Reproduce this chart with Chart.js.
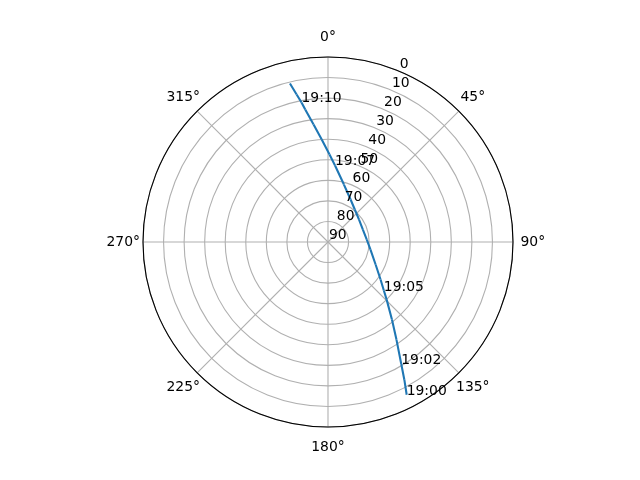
<!DOCTYPE html>
<html>
<head>
<meta charset="utf-8">
<script src="https://cdn.jsdelivr.net/npm/chart.js@4.4.0/dist/chart.umd.min.js"></script>
<style>
  body { margin: 0; background: #fff; }
</style>
</head>
<body>
<canvas id="myChart" width="640" height="480"></canvas>
<script>
// satellite pass, in time order
// azimuth: degrees clockwise from north, elevation: degrees above horizon
var azimuth = [152.8, 151.0, 148.9, 144.9, 140.6, 134.6, 131.0, 125.6, 115.4, 100.2, 86.5, 70.4,
               54.2, 39.6, 28.1, 15.5, 5.2, 1.0, 356.5, 353.1, 350.3, 349.2, 348.0, 346.5];
var elevation = [6.4, 13.4, 20.8, 31.9, 41.1, 50.0, 54.0, 58.6, 64.3, 69.0, 71.1, 72.0,
                 71.4, 69.5, 66.6, 61.0, 52.6, 47.4, 40.0, 32.4, 24.6, 20.9, 16.6, 10.7];
var timeLabels = ['19:00', null, '19:02', null, null, null, '19:05', null, null, null, null, null,
                  null, null, null, null, '19:07', null, null, null, null, '19:10', null, null];

var angleTicks = [0, 45, 90, 135, 180, 225, 270, 315];
var radialTicks = [0, 10, 20, 30, 40, 50, 60, 70, 80, 90];

var STEPS = 4; // spokes per degree on the radial scale
var FONT = '13.9px "DejaVu Sans"';

var spokes = [];
for (var i = 0; i < 360 * STEPS; i++) spokes.push('');
var idx = azimuth.map(function (a) { return Math.round(a * STEPS) % (360 * STEPS); });

// a radar line always closes on itself, so every piece of the track
// gets its own dataset with just its two end points
var pieces = [];
for (var j = 0; j < idx.length - 1; j++) {
    var d = spokes.map(function () { return null; });
    d[idx[j]] = elevation[j];
    d[idx[j + 1]] = elevation[j + 1];
    pieces.push({
        data: d,
        borderColor: '#1f77b4',
        borderWidth: 2.08,
        borderCapStyle: 'round',
        pointRadius: 0,
        pointHoverRadius: 0,
        fill: false,
        tension: 0,
        spanGaps: true
    });
}

var polarText = {
    id: 'polarText',
    afterDraw: function (chart) {
        var s = chart.scales.r;
        var ctx = chart.ctx;
        ctx.save();

        // outer spine
        ctx.strokeStyle = '#000';
        ctx.lineWidth = 1.1;
        ctx.beginPath();
        ctx.arc(s.xCenter, s.yCenter, s.drawingArea, 0, 2 * Math.PI);
        ctx.stroke();

        ctx.fillStyle = '#000';
        ctx.font = FONT;
        ctx.textBaseline = 'alphabetic';

        // angle labels
        ctx.textAlign = 'center';
        angleTicks.forEach(function (a) {
            var p = s.getPointPosition(a * STEPS, s.drawingArea + 19.8);
            ctx.fillText(a + '°', p.x, p.y + 4);
        });

        // elevation labels along 22.5 deg
        ctx.textAlign = 'left';
        radialTicks.forEach(function (v) {
            var p = s.getPointPositionForValue(22.5 * STEPS, v);
            ctx.fillText(String(v), p.x + 1, p.y - 3.4);
        });

        // times along the track
        timeLabels.forEach(function (t, i) {
            if (!t) return;
            var p = s.getPointPositionForValue(idx[i], elevation[i]);
            ctx.fillText(t, p.x, p.y);
        });
        ctx.restore();
    }
};

var ctx = document.getElementById('myChart').getContext('2d');
var chart = new Chart(ctx, {
    type: 'radar',
    data: {
        labels: spokes,
        datasets: pieces
    },
    options: {
        responsive: false,
        animation: false,
        devicePixelRatio: 1,
        layout: { padding: { top: 57, bottom: 53, left: 16, right: 0 } },
        plugins: {
            legend: { display: false },
            tooltip: { enabled: false }
        },
        scales: {
            r: {
                min: 0,
                max: 90,
                reverse: true,
                ticks: { display: false, stepSize: 10 },
                pointLabels: { display: false },
                grid: { circular: true, color: '#b0b0b0', lineWidth: 1.1 },
                angleLines: {
                    color: '#b0b0b0',
                    lineWidth: function (c) { return c.index % (45 * STEPS) === 0 ? 1.1 : 0; }
                }
            }
        }
    },
    plugins: [polarText]
});
</script>
</body>
</html>
